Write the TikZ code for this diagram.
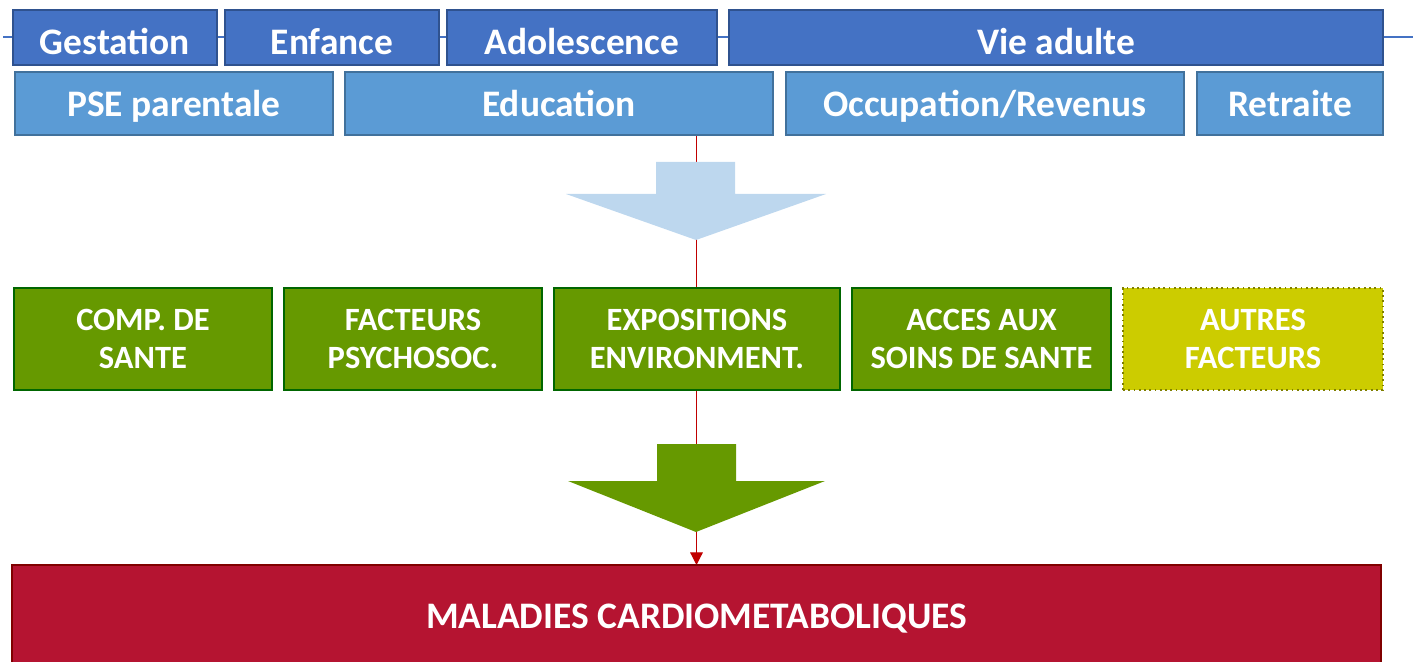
\documentclass[tikz,border=0pt]{standalone}
\usepackage{fontspec}
\setmainfont{Carlito}
\usetikzlibrary{arrows.meta,backgrounds}
\definecolor{ageblue}{HTML}{4472C4}
\definecolor{ageline}{HTML}{2F528F}
\definecolor{pseblue}{HTML}{5B9BD5}
\definecolor{pseline}{HTML}{41719C}
\definecolor{paleblue}{HTML}{BDD7EE}
\definecolor{factgreen}{HTML}{669900}
\definecolor{factline}{HTML}{006600}
\definecolor{otheryellow}{HTML}{CCCC00}
\definecolor{otherline}{HTML}{7F7F00}
\definecolor{diseasered}{HTML}{B51431}
\definecolor{diseaseline}{HTML}{800000}
\definecolor{linkred}{HTML}{C00000}
\newcommand{\px}{0.02cm}

\begin{document}
\begin{tikzpicture}[x=\px,y=-\px,
  box/.style={anchor=north west,inner sep=0pt,outer sep=0pt,text=white,font=\bfseries},
  agebox/.style={box,fill=ageblue,draw=ageline,line width=0.8pt,text height=19.5pt,text depth=0pt,
    font=\bfseries\fontsize{21.3}{25}\selectfont},
  psebox/.style={box,fill=pseblue,draw=pseline,line width=0.8pt,text height=15.3pt,text depth=0pt,
    font=\bfseries\fontsize{21.3}{25}\selectfont},
  factbox/.style={box,fill=factgreen,draw=factline,line width=1pt,align=center,
    minimum height={102*\px},font=\bfseries\fontsize{18.5}{21.5}\selectfont},
  otherbox/.style={factbox,fill=otheryellow,draw=otherline,dotted},
  diseasebox/.style={box,fill=diseasered,draw=diseaseline,line width=0.8pt,text height=15pt,text depth=0pt,
    font=\bfseries\fontsize{21.3}{25}\selectfont}]
\useasboundingbox (0,0) rectangle (1413,662);

% ages de la vie
\coordinate (tl-l) at (3,37);
\coordinate (tl-r) at (1413,37);
\node[agebox,minimum width={204*\px},minimum height={55*\px}] (gest) at (13,10) {Gestation};
\node[agebox,minimum width={214*\px},minimum height={55*\px}] (enf) at (225,10) {Enfance};
\node[agebox,minimum width={270*\px},minimum height={55*\px}] (ado) at (447,10) {Adolescence};
\node[agebox,minimum width={654*\px},minimum height={55*\px}] (adu) at (729,10) {Vie adulte};

% position socio-economique
\node[psebox,minimum width={318*\px},minimum height={63*\px}] (pse) at (15,72) {PSE parentale};
\node[psebox,minimum width={428*\px},minimum height={63*\px}] (edu) at (345,72) {Education};
\node[psebox,minimum width={398*\px},minimum height={63*\px}] (occ) at (786,72) {Occupation/Revenus};
\node[psebox,minimum width={186*\px},minimum height={63*\px}] (ret) at (1197,72) {Retraite};

% facteurs intermediaires
\node[factbox,minimum width={258*\px}] (comp) at (14,288) {COMP. DE\\SANTE};
\node[factbox,minimum width={258*\px}] (psy) at (284,288) {FACTEURS\\PSYCHOSOC.};
\node[factbox,minimum width={286*\px}] (expo) at (554,288) {EXPOSITIONS\\ENVIRONMENT.};
\node[factbox,minimum width={259*\px}] (soins) at (852,288) {ACCES AUX\\SOINS DE SANTE};
\node[otherbox,minimum width={260*\px}] (autres) at (1123,288) {AUTRES\\FACTEURS};

% issue
\node[diseasebox,minimum width={1369*\px},minimum height={100*\px}] (mal) at (12,565) {MALADIES CARDIOMETABOLIQUES};

% grosses fleches
\fill[paleblue] (656,162) -- (735,162) -- (735,194) -- (826,194) -- (696,240)
  -- (566,194) -- (656,194) -- cycle;
\fill[factgreen] (657,444) -- (736,444) -- (736,481) -- (825,481) -- (696,532)
  -- (568,481) -- (657,481) -- cycle;

\begin{scope}[on background layer]
\draw[ageblue,line width=0.8pt] (tl-l) -- (tl-r);
\draw[linkred,line width=0.7pt,-{Triangle[width=12pt*0.6,length=12pt*0.6]}] (mal.north |- edu.south) -- (mal.north);
\end{scope}
\end{tikzpicture}
\end{document}
